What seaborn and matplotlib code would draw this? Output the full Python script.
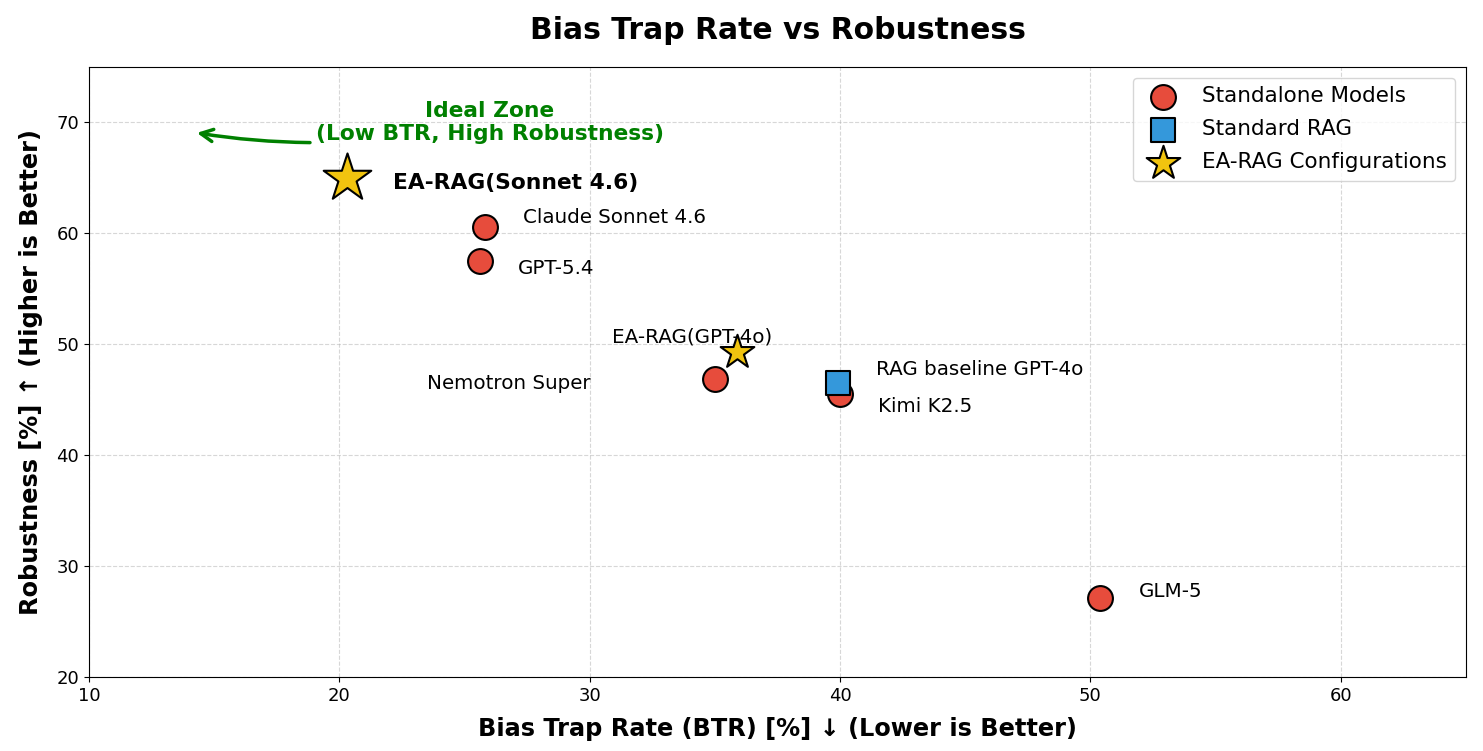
import numpy as np
import pandas as pd
import matplotlib
matplotlib.use("Agg")
import matplotlib.pyplot as plt
import seaborn as sns

# values
standalone_names = ["Claude Sonnet 4.6", "GPT-5.4", "Nemotron Super", "Kimi K2.5", "GLM-5"]
standalone_btr = [25.8, 25.6, 35.0, 40.0, 50.4]
standalone_rob = [60.6, 57.5, 46.9, 45.5, 27.1]

rag_names = ["RAG baseline GPT-4o"]
rag_btr = [39.9]
rag_rob = [46.5]

earag_names = ["EA-RAG(Sonnet 4.6)", "EA-RAG(GPT-4o)"]
earag_btr = [20.3, 35.9]
earag_rob = [65.0, 49.3]

RED = '#E74C3C'
BLUE = '#3498DB'
YELLOW = '#F1C40F'


def main():
    df_sa = pd.DataFrame({'btr': standalone_btr, 'rob': standalone_rob, 'name': standalone_names})
    df_rag = pd.DataFrame({'btr': rag_btr, 'rob': rag_rob, 'name': rag_names})
    df_ea = pd.DataFrame({'btr': earag_btr, 'rob': earag_rob, 'name': earag_names})

    fig = plt.figure(figsize=(14.83, 7.51), dpi=100)
    ax = fig.add_axes([0.060, 0.0985, 0.9285, 0.8123])

    sns.scatterplot(data=df_sa, x='btr', y='rob', ax=ax, color=RED, marker='o', s=320,
                    edgecolor='black', linewidth=1.5, label='Standalone Models', zorder=3)
    sns.scatterplot(data=df_rag, x='btr', y='rob', ax=ax, color=BLUE, marker='s', s=300,
                    edgecolor='black', linewidth=1.5, label='Standard RAG', zorder=4)
    sns.scatterplot(data=df_ea.iloc[1:], x='btr', y='rob', ax=ax, color=YELLOW, marker='*', s=650,
                    edgecolor='black', linewidth=1.5, label='EA-RAG Configurations', zorder=5)
    sns.scatterplot(data=df_ea.iloc[:1], x='btr', y='rob', ax=ax, color=YELLOW, marker='*', s=1300,
                    edgecolor='black', linewidth=1.5, zorder=5)

    # point labels (offsets in pixels)
    offsets = {
        "Claude Sonnet 4.6": (38, 9, 'left'),
        "GPT-5.4": (38, -7, 'left'),
        "Nemotron Super": (-124, -5, 'right'),
        "Kimi K2.5": (38, -12, 'left'),
        "GLM-5": (38, 7, 'left'),
        "RAG baseline GPT-4o": (38, 14, 'left'),
        "EA-RAG(GPT-4o)": (-45, 15, 'center'),
    }
    for d in (df_sa, df_rag, df_ea):
        for _, r in d.iterrows():
            if r['name'] == "EA-RAG(Sonnet 4.6)":
                ax.annotate(r['name'], (r['btr'], r['rob']), xytext=(46, -5),
                            textcoords='offset pixels', ha='left', va='center',
                            fontsize=15.7, fontweight='bold')
                continue
            dx, dy, ha = offsets[r['name']]
            ax.annotate(r['name'], (r['btr'], r['rob']), xytext=(dx, dy),
                        textcoords='offset pixels', ha=ha, va='center', fontsize=14.3)

    ax.annotate('Ideal Zone\n(Low BTR, High Robustness)', xy=(14.2, 69.1), xytext=(26.0, 70.0),
                ha='center', va='center', fontsize=15.7, fontweight='bold', color='green',
                arrowprops=dict(arrowstyle='->', color='green', lw=2.5, mutation_scale=22,
                                connectionstyle='arc3,rad=-0.1'))

    ax.set_xlim(10, 65)
    ax.set_ylim(20, 75)
    ax.set_xticks(np.arange(10, 61, 10))
    ax.set_yticks(np.arange(20, 71, 10))
    ax.tick_params(labelsize=13)
    ax.grid(True, linestyle='--', alpha=0.5)
    ax.set_axisbelow(True)

    ax.set_xlabel('Bias Trap Rate (BTR) [%] ↓ (Lower is Better)', fontsize=17.3,
                  fontweight='bold', labelpad=9)
    ax.set_ylabel('Robustness [%] ↑ (Higher is Better)', fontsize=17.3,
                  fontweight='bold', labelpad=10)
    ax.set_title('Bias Trap Rate vs Robustness', fontsize=21.5, fontweight='bold', pad=20)

    ax.legend(loc='upper right', fontsize=15.5, markerscale=1.0, labelspacing=0.6)

    fig.savefig('out.png', dpi=100)


if __name__ == "__main__":
    main()
